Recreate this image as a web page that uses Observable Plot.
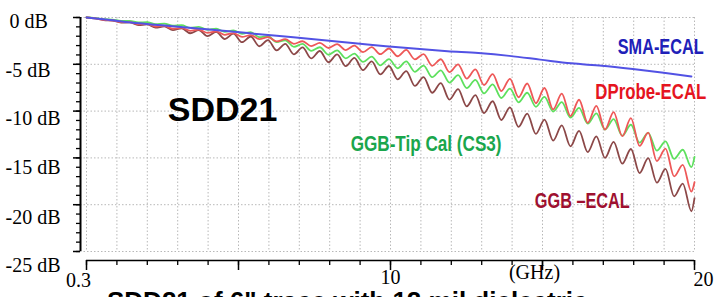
<!DOCTYPE html>
<html><head><meta charset="utf-8">
<script src="https://cdn.jsdelivr.net/npm/d3@7"></script>
<script src="https://cdn.jsdelivr.net/npm/@observablehq/plot@0.6"></script>
<style>
html,body{margin:0;padding:0;background:#fff;overflow:hidden;width:728px;height:297px}
#wrap{position:relative;width:728px;height:297px}
#caption{position:absolute;left:107px;top:288px;font:bold 26px "Liberation Sans",Arial,sans-serif;white-space:nowrap;line-height:26px;color:#000}
</style></head><body><div id="wrap"><div id="chart"></div><div id="caption"></div></div>
<script>
// ---------- data ----------
const freq = [0.3,0.58,0.86,1.14,1.42,1.7,1.98,2.26,2.54,2.82,3.1,3.38,3.66,3.94,4.22,4.5,4.78,5.06,5.34,5.62,5.9,6.18,6.46,6.74,7.02,7.3,7.58,7.86,8.14,8.42,8.7,8.98,9.26,9.54,9.82,10.1,10.38,10.66,10.94,11.22,11.5,11.78,12.06,12.34,12.62,12.9,13.18,13.46,13.74,14.02,14.3,14.58,14.86,15.14,15.42,15.7,15.98,16.26,16.54,16.82,17.1,17.38,17.66,17.94,18.22,18.5,18.78,19.06,19.34,19.62,19.9,20.0];

const ggbEcal = [0,-0.10,-0.27,-0.32,-0.54,-0.53,-0.81,-0.74,-1.08,-0.95,-1.35,-1.15,-1.68,-1.35,-1.99,-1.53,-2.30,-1.72,-2.64,-2.03,-3.07,-2.42,-3.51,-2.82,-3.94,-3.20,-4.37,-3.58,-4.78,-3.95,-5.20,-4.32,-5.62,-4.69,-6.08,-5.18,-6.61,-5.72,-7.31,-6.36,-8.04,-7.01,-8.77,-7.65,-9.49,-8.30,-10.22,-8.95,-10.95,-9.60,-11.69,-10.26,-12.43,-10.91,-13.15,-11.53,-13.76,-12.11,-14.38,-12.70,-15.00,-13.28,-15.62,-14.05,-16.62,-15.03,-17.64,-16.18,-19.11,-17.74,-20.70,-19.3];

const dprobeEcal = [0,-0.10,-0.24,-0.30,-0.48,-0.50,-0.72,-0.70,-0.96,-0.90,-1.20,-1.10,-1.42,-1.29,-1.64,-1.48,-1.85,-1.67,-2.07,-1.88,-2.31,-2.10,-2.56,-2.32,-2.81,-2.54,-3.05,-2.71,-3.26,-2.85,-3.48,-3.00,-3.70,-3.16,-3.92,-3.31,-4.14,-3.46,-4.47,-3.91,-5.16,-4.46,-5.84,-5.00,-6.53,-5.55,-7.21,-6.06,-7.86,-6.55,-8.52,-7.05,-9.16,-7.53,-9.81,-8.13,-10.53,-8.79,-11.25,-9.44,-11.97,-10.10,-12.68,-10.75,-13.72,-12.30,-15.34,-14.01,-16.97,-15.74,-18.60,-17.6];

const ggbTipCal = [0,-0.07,-0.18,-0.22,-0.35,-0.36,-0.53,-0.51,-0.70,-0.65,-0.88,-0.82,-1.10,-1.00,-1.31,-1.18,-1.53,-1.37,-1.74,-1.56,-2.11,-1.99,-2.62,-2.43,-3.13,-2.82,-3.56,-3.18,-3.98,-3.51,-4.36,-3.85,-4.75,-4.18,-5.11,-4.44,-5.42,-4.69,-5.80,-5.14,-6.38,-5.64,-6.96,-6.15,-7.54,-6.66,-8.11,-7.14,-8.60,-7.59,-9.07,-8.04,-9.54,-8.49,-10.05,-9.04,-10.69,-9.65,-11.34,-10.25,-11.98,-10.86,-12.63,-11.46,-13.36,-12.32,-14.23,-13.23,-15.11,-14.13,-15.99,-14.9];

const smaFreq = [0.3,1,2,3,4,5,6,7,8,9,10,11,12,13,14,15,16,17,18,19,19.9];
const smaEcal = [0,-0.25,-0.62,-0.9,-1.2,-1.5,-1.82,-2.12,-2.44,-2.75,-3.06,-3.35,-3.6,-3.8,-4.1,-4.5,-4.9,-5.15,-5.5,-5.9,-6.3];

const yTicks = [0,-5,-10,-15,-20,-25];
const yTickLabels = ["0 dB","-5 dB","-10 dB","-15 dB","-20 dB","-25 dB"];
const xTickLabels = ["0.3","10","20"];
const xUnit = "(GHz)";
const seriesNames = ["SMA-ECAL","DProbe-ECAL","GGB-Tip Cal (CS3)","GGB \u2013ECAL"];
const chartTitle = "SDD21";
const caption = "SDD21 of 6\" trace with 12 mil dielectric";

// ---------- build ----------
const rows = ys => freq.map((f, i) => ({f, v: ys[i]}));
const smaRows = smaFreq.map((f, i) => ({f, v: smaEcal[i]}));
const xTicksAll = d3.range(21).map(k => 0.3 + k * 0.985);
const xMajor = [0,5,10,15,20].map(k => xTicksAll[k]);
const yMinor = d3.range(-25, 1);

const serif = '"Liberation Serif","Times New Roman",serif';
const bold = '"Liberation Sans",Arial,sans-serif';
const grid = {stroke: "#b8b8b8", strokeOpacity: 1, strokeDasharray: "1.5,2", strokeWidth: 1};

// pixel -> data helpers for axis tick lengths (offsets below the frame)
const yPx = 234 / 25;          // px per dB
const axisY0 = -25 - 9 / yPx;   // x-axis line sits 9px below -25 dB
const minorEnd = axisY0 - 5 / yPx;
const majorEnd = axisY0 - 10 / yPx;

const yLabelDy = [4, 6.5, 7.5, 10, 13, 14];
const yLabelMarks = yTicks.map((t, i) => Plot.text([t], {
  y: d => d, text: () => yTickLabels[i], frameAnchor: "left", textAnchor: "start",
  dx: i === 0 ? -71 : -75, dy: yLabelDy[i], fontSize: 20, fontFamily: serif, fill: "#000"
}));

const xLabelPos = [xTicksAll[0], xTicksAll[10], xTicksAll[20]];
const xLabelDx = [-8, 0, 9];
const xLabelDy = [35, 32, 34];
const xLabelMarks = xTickLabels.map((t, i) => Plot.text([xLabelPos[i]], {
  x: d => d, text: () => t, frameAnchor: "bottom", dx: xLabelDx[i], dy: xLabelDy[i],
  fontSize: 20, fontFamily: serif, fill: "#000"
}));

const labelStyle = {fontSize: 22, fontWeight: "bold", fontFamily: bold};

const chart = Plot.plot({
  width: 728, height: 297,
  marginLeft: 80, marginRight: 34, marginTop: 17, marginBottom: 46,
  x: {domain: [0.3, 20], range: [86, 694], axis: null},
  y: {domain: [-25, 0], axis: null},
  style: {background: "#fff", overflow: "visible"},
  marks: [
    Plot.gridX(xTicksAll, grid),
    Plot.gridY(yTicks, grid),
    Plot.ruleX([0.3], {dx: -6, stroke: "#000", strokeWidth: 2}),
    Plot.ruleY([axisY0], {x1: 0.3, x2: 20, stroke: "#000", strokeWidth: 1.5}),
    Plot.axisY(yMinor, {anchor: "left", tickSize: 4, tickFormat: () => "", label: null, stroke: "#000", strokeWidth: 1.3}),
    Plot.axisY(yTicks, {anchor: "left", tickSize: 7, tickFormat: () => "", label: null, stroke: "#000", strokeWidth: 1.5}),
    Plot.ruleX(xTicksAll, {x: d => d, y1: axisY0, y2: minorEnd, stroke: "#000", strokeWidth: 1.3}),
    Plot.ruleX(xMajor, {x: d => d, y1: axisY0, y2: majorEnd, stroke: "#000", strokeWidth: 1.5}),
    ...yLabelMarks,
    ...xLabelMarks,
    Plot.text([xTicksAll[15]], {x: d => d, text: () => xUnit, frameAnchor: "bottom", dx: -8, dy: 27, fontSize: 20, fontFamily: serif, fill: "#000"}),
    Plot.line(rows(ggbEcal), {x: "f", y: "v", stroke: "#8c4848", strokeWidth: 1.8, curve: "monotone-x"}),
    Plot.line(rows(ggbTipCal), {x: "f", y: "v", stroke: "#5ee05e", strokeWidth: 1.8, curve: "monotone-x"}),
    Plot.line(rows(dprobeEcal), {x: "f", y: "v", stroke: "#ee5858", strokeWidth: 1.8, curve: "monotone-x"}),
    Plot.line(smaRows, {x: "f", y: "v", stroke: "#5252e4", strokeWidth: 2, curve: "monotone-x"}),
    Plot.text([chartTitle], {x: 4.71, y: -9.88, text: d => d, fontSize: 34, fontWeight: "bold", fontFamily: bold, fill: "#000"}),
    Plot.text([seriesNames[0]], {x: 18.9, y: -3.1, text: d => d, ...labelStyle, fill: "#2020b8"}),
    Plot.text([seriesNames[1]], {x: 18.58, y: -8.0, text: d => d, ...labelStyle, fill: "#e5141e"}),
    Plot.text([seriesNames[2]], {x: 11.3, y: -13.46, text: d => d, ...labelStyle, fill: "#1aa64c"}),
    Plot.text([seriesNames[3]], {x: 16.36, y: -19.55, text: d => d, ...labelStyle, fill: "#9e1030"})
  ]
});
document.getElementById("chart").appendChild(chart);
document.getElementById("caption").textContent = caption;

// condensed look of the series labels: squeeze horizontally about their centre
const fitWidths = {"SMA-ECAL": 86, "DProbe-ECAL": 111, "GGB-Tip Cal (CS3)": 151, "GGB \u2013ECAL": 95};
const svgRect = chart.getBoundingClientRect();
chart.querySelectorAll("text").forEach(t => {
  const w = fitWidths[t.textContent];
  if (!w) return;
  const r = t.getBoundingClientRect();
  const k = w / r.width;
  const cx = r.x + r.width / 2 - svgRect.x;
  const g = document.createElementNS("http://www.w3.org/2000/svg", "g");
  g.setAttribute("transform", `translate(${cx},0) scale(${k},1) translate(${-cx},0)`);
  t.parentNode.insertBefore(g, t);
  g.appendChild(t);
});
</script>
</body></html>
